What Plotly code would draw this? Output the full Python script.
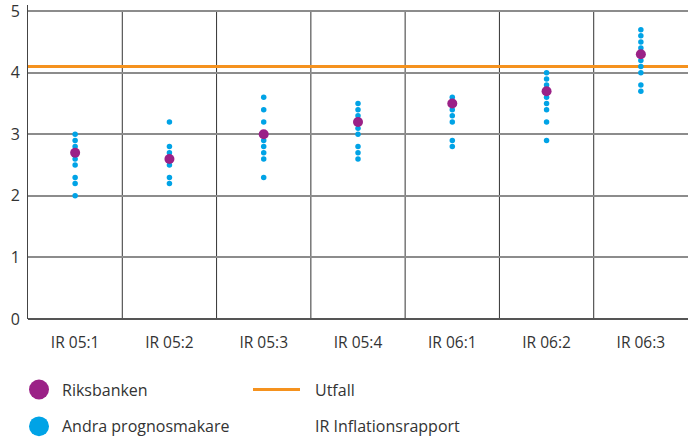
import plotly.graph_objects as go

# Inflation forecasts per Inflationsrapport, compared with outcome
categories = ["IR 05:1", "IR 05:2", "IR 05:3", "IR 05:4", "IR 06:1", "IR 06:2", "IR 06:3"]

riksbanken = [2.7, 2.6, 3.0, 3.2, 3.5, 3.7, 4.3]

andra = [
    [3.0, 2.9, 2.8, 2.6, 2.5, 2.3, 2.2, 2.0],
    [3.2, 2.8, 2.7, 2.5, 2.3, 2.2],
    [3.6, 3.4, 3.2, 2.9, 2.8, 2.7, 2.6, 2.3],
    [3.5, 3.4, 3.3, 3.1, 3.0, 2.8, 2.7, 2.6],
    [3.6, 3.4, 3.3, 3.2, 2.9, 2.8],
    [4.0, 3.9, 3.8, 3.6, 3.5, 3.4, 3.2, 2.9],
    [4.7, 4.6, 4.5, 4.4, 4.2, 4.1, 4.0, 3.8, 3.7],
]

utfall = 4.1

y_max = 5

PURPLE = "#9b2187"
BLUE = "#00a3e6"
ORANGE = "#f5921e"
TEXT = "#333333"

n = len(categories)
xs = list(range(n))

fig = go.Figure()

# outcome line across the full width
fig.add_trace(go.Scatter(
    x=[-0.5, n - 0.5], y=[utfall, utfall], mode="lines",
    line=dict(color=ORANGE, width=3), hoverinfo="skip", showlegend=False
))

# other forecasters
ax, ay = [], []
for i, vals in enumerate(andra):
    ax += [i] * len(vals)
    ay += vals
fig.add_trace(go.Scatter(
    x=ax, y=ay, mode="markers",
    marker=dict(color=BLUE, size=5.5), name="Andra prognosmakare", showlegend=False
))

# Riksbanken
fig.add_trace(go.Scatter(
    x=xs, y=riksbanken, mode="markers",
    marker=dict(color=PURPLE, size=10), name="Riksbanken", showlegend=False
))

# vertical separators between the categories
shapes = []
for k in range(1, n):
    shapes.append(dict(type="line", xref="x", yref="y", x0=k - 0.5, x1=k - 0.5, y0=0, y1=y_max,
                       line=dict(color="#333333", width=1), layer="below"))

# hand made legend below the plot (paper coords: plot is 660 x 316 px)
def px(x):
    return (x - 28) / 660

def py(y):
    return (319 - y) / 316

shapes.append(dict(type="circle", xref="paper", yref="paper",
                   x0=px(29), x1=px(49), y0=py(400), y1=py(380),
                   fillcolor=PURPLE, line=dict(width=0)))
shapes.append(dict(type="circle", xref="paper", yref="paper",
                   x0=px(29), x1=px(49), y0=py(437), y1=py(417),
                   fillcolor=BLUE, line=dict(width=0)))
shapes.append(dict(type="line", xref="paper", yref="paper",
                   x0=px(253), x1=px(300), y0=py(390), y1=py(390),
                   line=dict(color=ORANGE, width=3)))

annotations = []
for txt, x, y in [("Riksbanken", 60, 390), ("Andra prognosmakare", 60, 427),
                  ("Utfall", 313, 390), ("IR Inflationsrapport", 313, 427)]:
    annotations.append(dict(text=txt, xref="paper", yref="paper",
                            x=px(x), y=py(y),
                            xanchor="left", yanchor="middle", showarrow=False,
                            font=dict(size=16, color=TEXT)))

fig.update_layout(
    width=688, height=438,
    margin=dict(l=28, r=0, t=3, b=119),
    paper_bgcolor="white", plot_bgcolor="white",
    font=dict(family="Open Sans, sans-serif", color=TEXT),
    showlegend=False,
    shapes=shapes,
    annotations=annotations,
    xaxis=dict(
        range=[-0.5, n - 0.5], tickvals=xs, ticktext=categories,
        showgrid=False, zeroline=False, ticks="",
        tickfont=dict(size=15.5, color=TEXT), fixedrange=True,
        ticklabelstandoff=12,
    ),
    yaxis=dict(
        range=[0, 5.1], tickmode="linear", tick0=0, dtick=1, showgrid=True,
        gridcolor="#8c8c8c", gridwidth=2, zeroline=True, zerolinecolor="#555555",
        zerolinewidth=2, ticks="", tickfont=dict(size=16, color=TEXT), fixedrange=True,
        showline=True, linecolor="#444444", linewidth=1, ticklabelstandoff=4,
        ticklabeloverflow="allow",
    ),
)

fig.write_html("out.html", config={"displayModeBar": False},
               post_script="document.body.style.margin='0';")
